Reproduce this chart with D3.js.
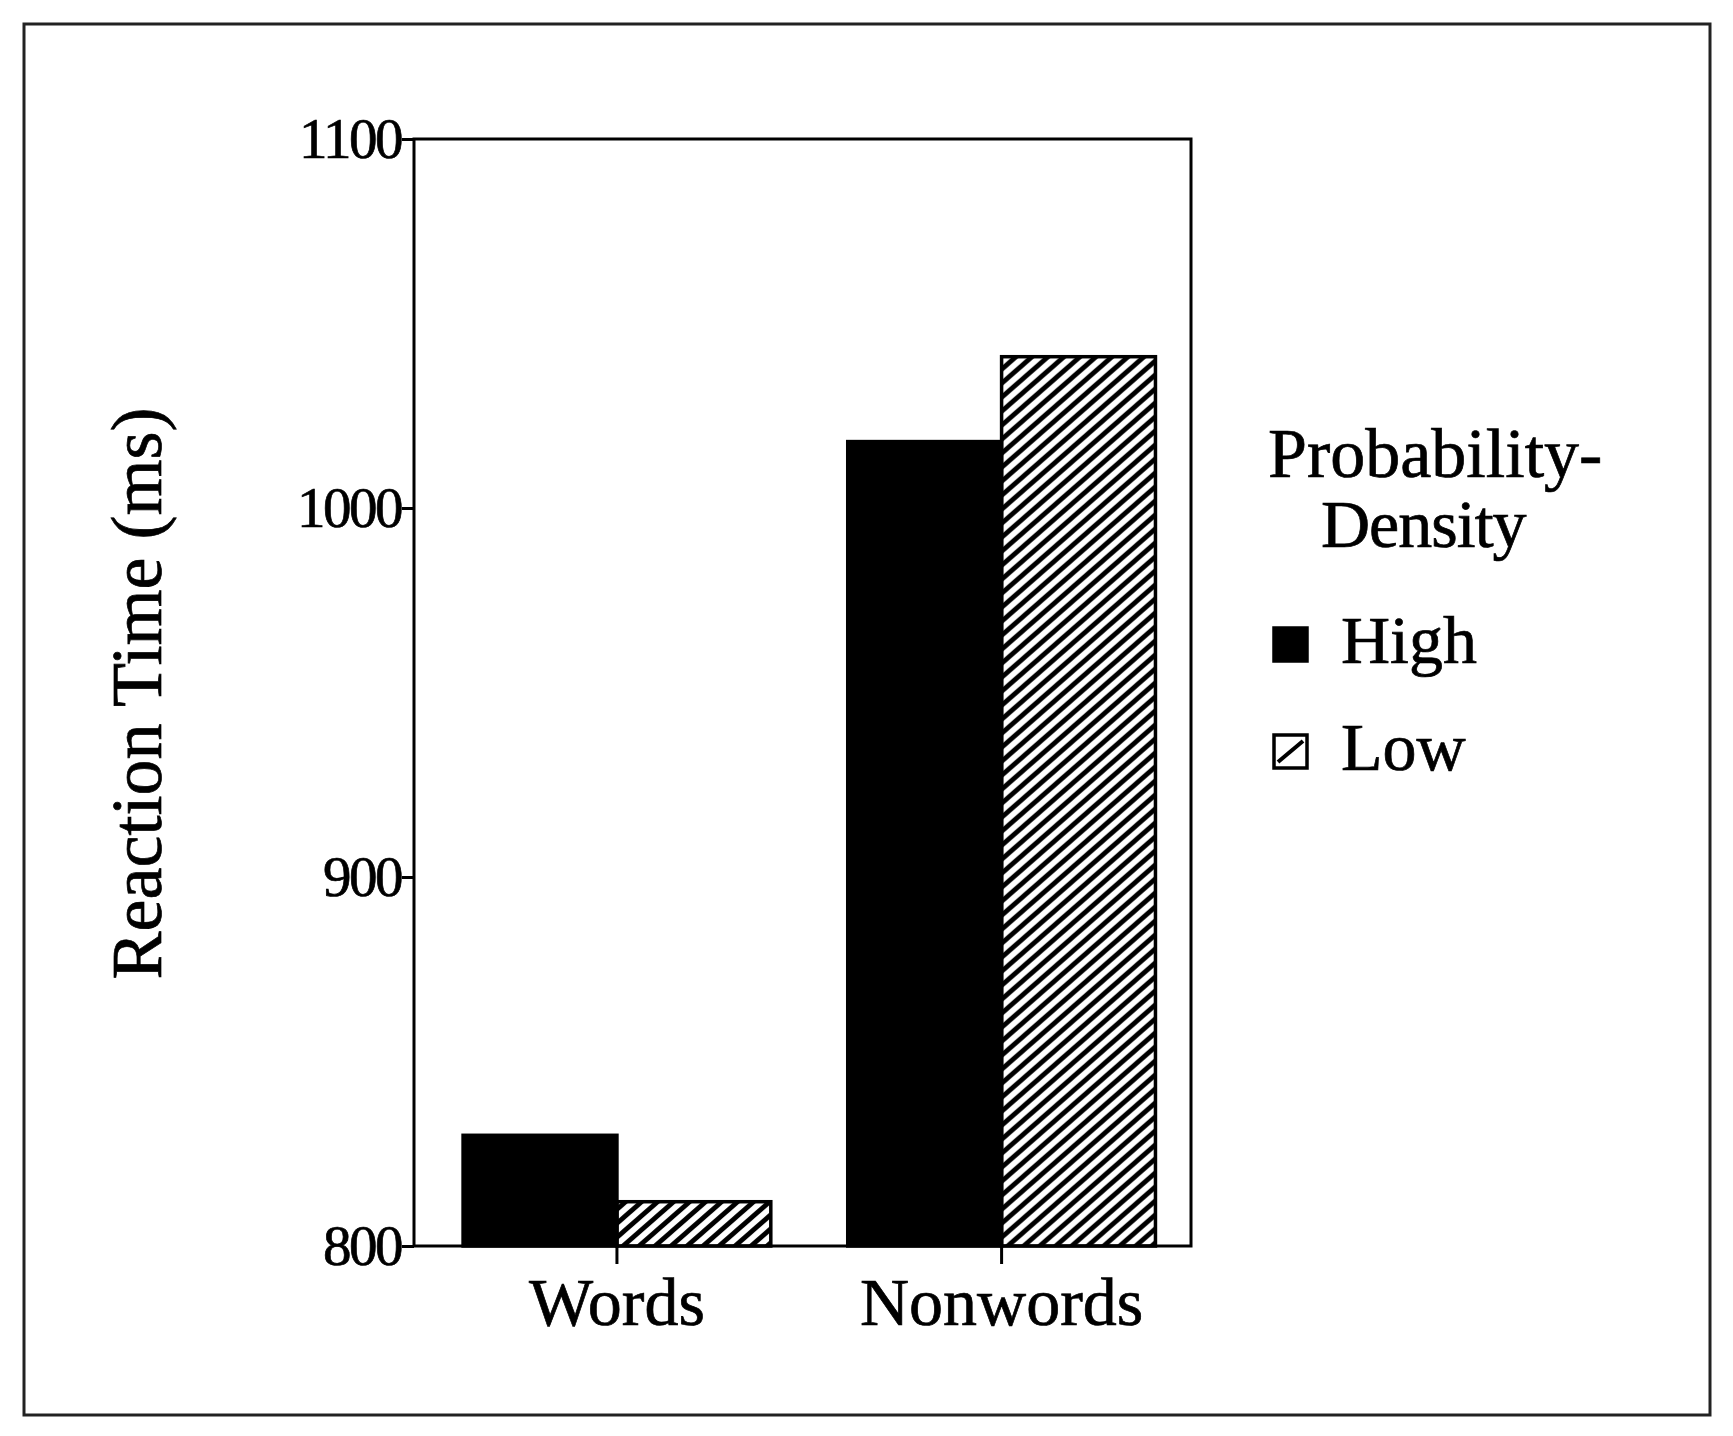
<!DOCTYPE html>
<html>
<head>
<meta charset="utf-8">
<script src="https://cdn.jsdelivr.net/npm/d3@7"></script>
<style>
  body { margin: 0; background: #fff; }
  svg text { font-family: "Liberation Serif", "DejaVu Serif", serif; fill: #000; stroke: #000; stroke-width: 0.7px; }
</style>
</head>
<body>
<div id="chart"></div>
<script>
// values
const categories = ['Words', 'Nonwords']
const series = ['High', 'Low']
const highValues = [830, 1018]
const lowValues = [812, 1041]
const yTicks = [800, 900, 1000, 1100]

const width = 1733
const height = 1436
const plot = {left: 414, right: 1191, top: 139, bottom: 1246}

const svg = d3.select('#chart')
    .append('svg')
    .attr('width', width)
    .attr('height', height)

// hatch for the "Low" bars ("/" lines)
const hw = 16, hh = 14
const defs = svg.append('defs')
defs.append('pattern')
    .attr('id', 'hatch')
    .attr('patternUnits', 'userSpaceOnUse')
    .attr('width', hw)
    .attr('height', hh)
    .append('path')
    .attr('d', `M0,${hh} L${hw},0 M${-hw},${hh} L${hw},${-hh} M0,${2 * hh} L${2 * hw},0`)
    .attr('stroke', '#000')
    .attr('stroke-width', 4.8)

// outer frame
svg.append('rect')
    .attr('x', 24).attr('y', 24)
    .attr('width', 1686).attr('height', 1391)
    .attr('fill', 'none')
    .attr('stroke', '#222')
    .attr('stroke-width', 3)

const y = d3.scaleLinear()
    .domain([800, 1100])
    .range([plot.bottom, plot.top])

const x0 = d3.scaleBand()
    .domain(categories)
    .range([plot.left, plot.right])
    .paddingInner(0.2)
    .paddingOuter(0.11)
    .align(0.58)

const x1 = d3.scaleBand()
    .domain(series)
    .range([0, x0.bandwidth()])

const fills = {High: '#000', Low: 'url(#hatch)'}

const rows = categories.map((c, i) => ({
    category: c,
    values: [
        {key: 'High', value: highValues[i]},
        {key: 'Low', value: lowValues[i]}
    ]
}))

const groups = svg.selectAll('g.cat')
    .data(rows)
    .enter()
    .append('g')
    .attr('class', 'cat')
    .attr('transform', d => `translate(${x0(d.category)},0)`)

groups.selectAll('rect')
    .data(d => d.values)
    .enter()
    .append('rect')
    .attr('x', d => x1(d.key))
    .attr('y', d => y(d.value))
    .attr('width', x1.bandwidth())
    .attr('height', d => y(800) - y(d.value))
    .attr('fill', d => fills[d.key])
    .attr('stroke', '#000')
    .attr('stroke-width', 3.5)

// plot box
svg.append('rect')
    .attr('x', plot.left)
    .attr('y', y(1100))
    .attr('width', plot.right - plot.left)
    .attr('height', y(800) - y(1100))
    .attr('fill', 'none')
    .attr('stroke', '#000')
    .attr('stroke-width', 3)

// y axis
const yAxis = svg.append('g')
    .attr('transform', `translate(${plot.left},0)`)
    .call(d3.axisLeft(y).tickValues(yTicks).tickSize(12).tickSizeOuter(0).tickPadding(1).tickFormat(d3.format('d')))
yAxis.select('.domain').remove()
yAxis.selectAll('line').attr('stroke', '#000').attr('stroke-width', 3)
yAxis.selectAll('text')
    .attr('font-size', 57)
    .attr('letter-spacing', -2.5)
    .attr('font-family', '"Liberation Serif", serif')

// x axis
const xAxis = svg.append('g')
    .attr('transform', `translate(0,${plot.bottom})`)
    .call(d3.axisBottom(x0).tickSize(18).tickSizeOuter(0))
xAxis.select('.domain').remove()
xAxis.selectAll('line').attr('stroke', '#000').attr('stroke-width', 3)
xAxis.selectAll('text')
    .attr('y', 79)
    .attr('dy', 0)
    .attr('font-size', 68)
    .attr('font-family', '"Liberation Serif", serif')

// y axis title
svg.append('text')
    .attr('transform', `translate(161,${(plot.top + plot.bottom) / 2 + 1}) rotate(-90)`)
    .attr('text-anchor', 'middle')
    .attr('font-size', 72)
    .text('Reaction Time (ms)')

// legend
const legend = svg.append('g')
legend.append('text')
    .attr('x', 1268).attr('y', 477)
    .attr('font-size', 70)
    .text('Probability-')
legend.append('text')
    .attr('x', 1321).attr('y', 547)
    .attr('font-size', 68)
    .attr('letter-spacing', -1)
    .text('Density')

const sw = 33
const items = legend.selectAll('g.item')
    .data(series)
    .enter()
    .append('g')
    .attr('class', 'item')
    .attr('transform', (d, i) => `translate(1274,${628 + i * 107})`)

items.append('rect')
    .attr('width', sw)
    .attr('height', sw)
    .attr('fill', d => d === 'High' ? '#000' : '#fff')
    .attr('stroke', '#000')
    .attr('stroke-width', 3.5)
items.filter(d => d === 'Low')
    .append('path')
    .attr('d', `M4,${sw - 6} L${sw - 4},6`)
    .attr('stroke', '#000')
    .attr('stroke-width', 4)
items.append('text')
    .attr('x', 67)
    .attr('y', sw + 2)
    .attr('font-size', 68)
    .text(d => d)
</script>
</body>
</html>
